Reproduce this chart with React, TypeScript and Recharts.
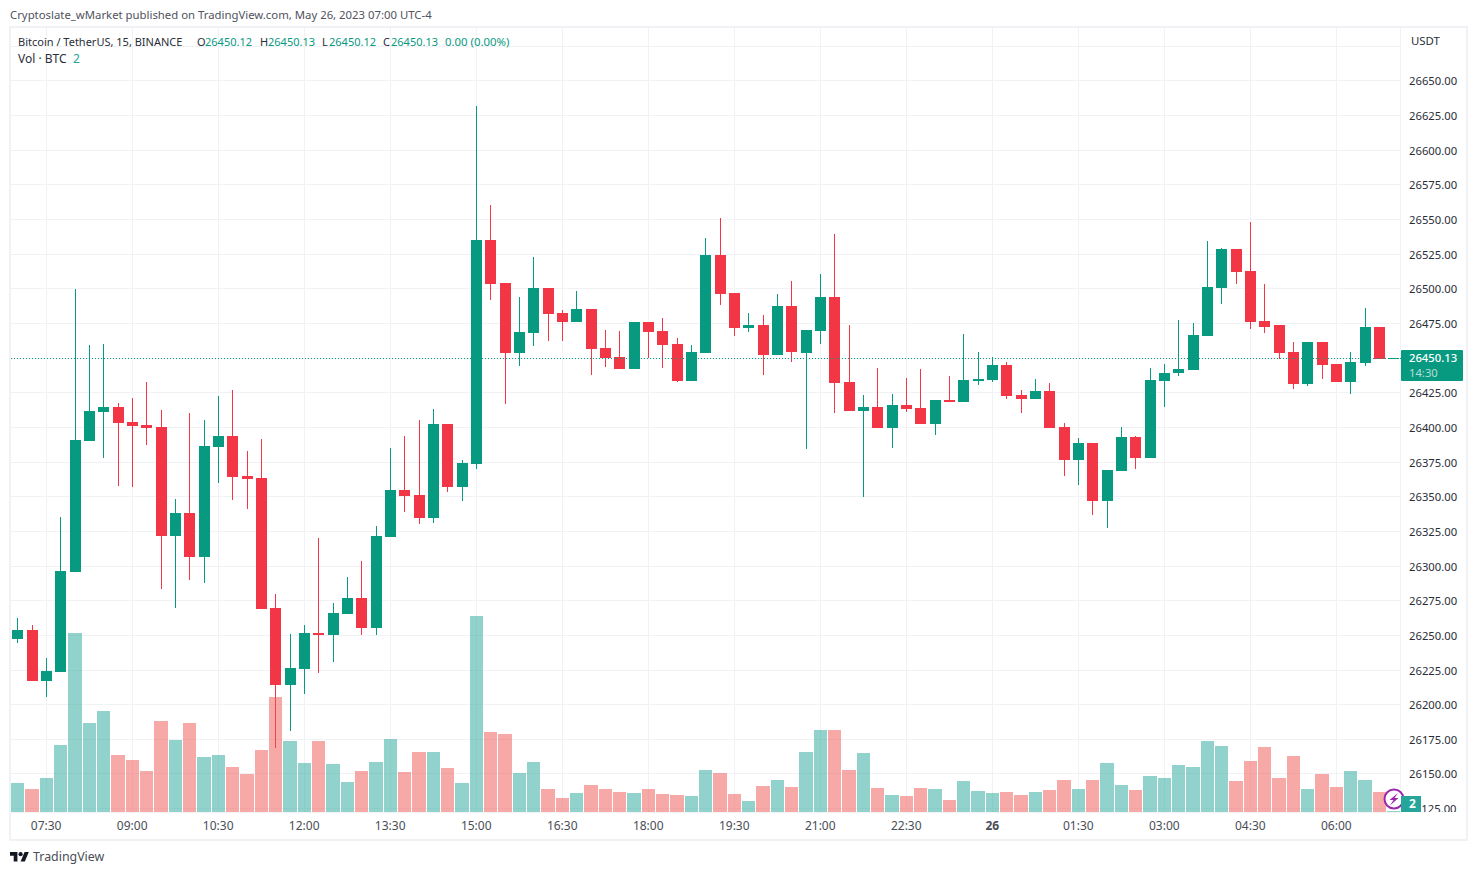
import { Bar, CartesianGrid, Cell, ComposedChart, ReferenceLine, XAxis, YAxis } from 'recharts';

// BTCUSDT 15m, values
const opens = [
  26247.4, 26253.9, 26217.1, 26223.5, 26295.8, 26390.2, 26411.2, 26414.7, 26403.9, 26401.8,
  26400.3, 26321.7, 26338.3, 26306.6, 26385.9, 26393.8, 26364.9, 26363.5, 26269.7, 26214.2,
  26225.7, 26251.7, 26250.2, 26265.4, 26277.0, 26255.3, 26321.0, 26354.8, 26351.2, 26334.7,
  26402.5, 26357.1, 26373.6, 26535.2, 26504.2, 26453.8, 26468.2, 26500.6, 26482.6, 26476.1,
  26485.5, 26457.3, 26450.8, 26442.2, 26476.1, 26469.6, 26460.2, 26433.5, 26453.8, 26524.4,
  26497.0, 26471.8, 26473.9, 26452.4, 26487.7, 26453.8, 26469.6, 26494.1, 26432.8, 26411.9,
  26414.7, 26399.6, 26416.2, 26414.0, 26402.5, 26419.8, 26418.4, 26433.5, 26434.3, 26445.1,
  26423.4, 26420.5, 26426.3, 26400.3, 26376.6, 26388.8, 26347.0, 26368.6, 26393.1, 26378.0,
  26433.5, 26439.3, 26441.5, 26466.0, 26500.6, 26528.8, 26512.9, 26476.8, 26473.9, 26454.5,
  26431.4, 26461.7, 26445.8, 26432.8, 26446.5, 26472.5, 26450.12,
];
const highs = [
  26262.5, 26257.5, 26233.7, 26335.4, 26499.9, 26459.5, 26460.2, 26417.6, 26421.3, 26432.8,
  26412.6, 26348.4, 26410.4, 26405.4, 26422.7, 26427.0, 26382.7, 26391.7, 26279.9, 26251.0,
  26257.5, 26320.3, 26273.3, 26292.1, 26303.7, 26328.9, 26385.2, 26393.8, 26405.4, 26413.3,
  26402.5, 26376.6, 26632.0, 26560.5, 26504.2, 26494.1, 26523.0, 26500.6, 26484.8, 26498.5,
  26485.5, 26470.4, 26469.6, 26476.1, 26476.1, 26479.0, 26464.6, 26459.5, 26536.7, 26551.1,
  26497.0, 26482.6, 26481.2, 26496.3, 26505.7, 26470.4, 26510.7, 26539.6, 26473.9, 26423.4,
  26442.9, 26424.2, 26435.7, 26442.2, 26419.8, 26437.1, 26467.4, 26454.5, 26450.8, 26447.3,
  26427.0, 26435.0, 26432.1, 26403.2, 26392.4, 26388.8, 26369.4, 26400.3, 26393.8, 26442.9,
  26445.8, 26477.5, 26475.4, 26534.6, 26529.5, 26528.8, 26548.6, 26503.5, 26473.9, 26461.7,
  26461.7, 26461.7, 26445.8, 26454.5, 26486.2, 26472.5, 26450.13,
];
const lows = [
  26244.5, 26217.1, 26205.5, 26223.5, 26295.8, 26390.2, 26378.0, 26357.8, 26357.1, 26387.3,
  26283.5, 26269.7, 26290.0, 26287.9, 26359.9, 26347.7, 26340.5, 26269.0, 26168.8, 26181.0,
  26207.7, 26222.8, 26230.8, 26265.4, 26250.2, 26250.2, 26321.0, 26339.0, 26330.4, 26331.1,
  26353.5, 26347.0, 26370.0, 26492.0, 26416.9, 26444.4, 26458.8, 26462.4, 26462.4, 26476.1,
  26437.9, 26443.6, 26442.2, 26442.2, 26450.1, 26442.9, 26432.8, 26433.5, 26453.8, 26488.4,
  26466.0, 26468.9, 26437.9, 26452.4, 26447.3, 26384.5, 26460.2, 26410.4, 26411.9, 26349.8,
  26399.6, 26385.2, 26411.2, 26402.5, 26394.5, 26418.4, 26418.4, 26430.6, 26432.8, 26420.5,
  26410.4, 26420.5, 26399.6, 26365.0, 26358.5, 26336.9, 26327.5, 26368.6, 26370.0, 26378.0,
  26414.7, 26437.1, 26441.5, 26466.0, 26489.1, 26503.5, 26471.1, 26468.2, 26449.4, 26427.8,
  26429.9, 26435.0, 26432.8, 26424.2, 26444.4, 26449.4, 26450.12,
];
const closes = [
  26253.9, 26217.1, 26224.3, 26296.5, 26390.9, 26411.9, 26414.7, 26403.2, 26401.0, 26399.6,
  26321.7, 26338.3, 26306.6, 26386.6, 26393.8, 26364.2, 26362.8, 26269.0, 26214.2, 26226.4,
  26251.7, 26250.2, 26266.1, 26277.0, 26255.3, 26321.7, 26354.8, 26350.5, 26334.7, 26402.5,
  26357.1, 26374.4, 26535.2, 26503.5, 26453.8, 26468.9, 26500.6, 26481.9, 26476.1, 26485.5,
  26456.6, 26450.1, 26442.2, 26476.1, 26468.9, 26459.5, 26433.5, 26454.5, 26524.4, 26496.3,
  26471.8, 26473.9, 26452.4, 26487.7, 26454.5, 26470.4, 26494.1, 26432.1, 26411.9, 26414.7,
  26399.6, 26416.2, 26413.3, 26402.5, 26419.8, 26418.4, 26434.3, 26435.0, 26445.1, 26422.7,
  26420.5, 26426.3, 26399.6, 26376.6, 26388.8, 26347.0, 26369.4, 26393.1, 26378.0, 26434.3,
  26439.3, 26442.2, 26466.7, 26501.4, 26528.8, 26512.2, 26476.1, 26472.5, 26453.8, 26431.4,
  26461.7, 26445.1, 26432.8, 26447.3, 26472.5, 26449.4, 26450.13,
];
const volumes = [
  290, 230, 340, 670, 1790, 890, 1010, 570, 520, 410,
  910, 720, 890, 550, 570, 450, 380, 620, 1150, 710,
  490, 710, 480, 300, 410, 500, 730, 400, 600, 600,
  440, 290, 1960, 800, 780, 390, 500, 230, 140, 190,
  270, 230, 200, 190, 230, 180, 170, 160, 420, 390,
  180, 110, 260, 320, 250, 600, 820, 820, 420, 590,
  240, 170, 160, 240, 230, 120, 310, 210, 190, 200,
  170, 200, 220, 320, 230, 320, 490, 270, 220, 360,
  340, 470, 450, 710, 660, 310, 510, 650, 340, 560,
  230, 380, 250, 410, 320, 200, 2,
];

const tickTimes = [
  '25 07:30', '25 09:00', '25 10:30', '25 12:00', '25 13:30', '25 15:00', '25 16:30', '25 18:00',
  '25 19:30', '25 21:00', '25 22:30', '26 00:00', '26 01:30', '26 03:00', '26 04:30', '26 06:00',
];
const priceTicks = [
  26125, 26150, 26175, 26200, 26225, 26250, 26275, 26300, 26325, 26350, 26375, 26400,
  26425, 26450, 26475, 26500, 26525, 26550, 26575, 26600, 26625, 26650, 26675,
];
const lastPrice = 26450.13;

const barTimes = opens.map((_, i) => {
  const minutes = 7 * 60 + i * 15;
  const clock = minutes % 1440;
  const hh = String(Math.floor(clock / 60)).padStart(2, '0');
  const mm = String(clock % 60).padStart(2, '0');
  return `${minutes >= 1440 ? 26 : 25} ${hh}:${mm}`;
});

const data = barTimes.map((time, i) => ({
  time,
  open: opens[i],
  high: highs[i],
  low: lows[i],
  close: closes[i],
  range: [lows[i], highs[i]],
  volume: volumes[i],
}));

const UP = '#089981';
const DOWN = '#f23645';
const VOL_UP = 'rgba(38,166,154,0.5)';
const VOL_DOWN = 'rgba(239,83,80,0.5)';
const GRID = '#f1f2f5';
const TEXT = '#50535e';
const FONT = '"Noto Sans", sans-serif';

function Candle(props: any) {
  const { x, y, width, height, payload } = props;
  const { open, high, low, close } = payload;
  const span = high - low;
  const toY = (p: number) => (span > 0 ? y + ((high - p) / span) * height : y);
  const color = close >= open ? UP : DOWN;
  const left = Math.ceil(x + width / 2 - 5.5);
  const top = Math.round(toY(Math.max(open, close)));
  const bottom = Math.round(toY(Math.min(open, close)));
  return (
    <g shapeRendering="crispEdges">
      <rect x={left + 5} y={Math.round(y)} width={1} height={Math.max(Math.round(height), 1)} fill={color} />
      <rect x={left} y={top} width={11} height={Math.max(bottom - top, 1)} fill={color} />
    </g>
  );
}

function VolumeBar(props: any) {
  const { x, y, width, height, fill } = props;
  const cx = x + width / 2;
  const left = Math.round(cx - 6.5);
  const right = Math.ceil(cx + 6.5);
  const bottom = Math.round(y + height);
  const top = Math.min(Math.round(y), bottom - 1);
  return <rect x={left} y={top} width={right - left} height={bottom - top} fill={fill} shapeRendering="crispEdges" />;
}

function TimeTick({ x, y, payload }: any) {
  const isDay = payload.value === '26 00:00';
  return (
    <text x={x} y={y + 7} textAnchor="middle" dominantBaseline="central" fontFamily={FONT} fontSize={12}
      fontWeight={isDay ? 700 : 400} fill="#4a4e57">
      {isDay ? '26' : payload.value.slice(3)}
    </text>
  );
}

function PriceTick({ x, y, payload }: any) {
  // 26675 has a grid line but no label, 26450 sits under the price tag, 26125 is half under the volume tag
  if (payload.value === 26675 || payload.value === 26450) return null;
  const label = payload.value.toFixed(2);
  const cut = payload.value === 26125;
  return (
    <text x={cut ? x + 14.5 : x + 2.2} y={y} textAnchor="start" dominantBaseline="central" fontFamily={FONT} fontSize={11.25} fill="#2a2e39">
      {cut ? label.slice(2) : label}
    </text>
  );
}

function Caption({ left, top, color = TEXT, children, size = 11.35, height = 16 }: any) {
  return (
    <span style={{ position: 'absolute', left, top, color, fontSize: size, lineHeight: `${height}px`, whiteSpace: 'nowrap' }}>
      {children}
    </span>
  );
}

export default function App() {
  return (
    <div style={{ position: 'absolute', left: 0, top: 0, width: 1477, height: 875, background: '#fff', fontFamily: FONT, overflow: 'hidden' }}>
      <ComposedChart width={1477} height={875} data={data} barCategoryGap={0}
        margin={{ top: 27, right: 10, bottom: 35, left: 10.33 }}>
        <CartesianGrid xAxisId="time" yAxisId="price" stroke={GRID} shapeRendering="crispEdges" />
        <XAxis xAxisId="time" dataKey="time" ticks={tickTimes} interval={0} height={28}
          axisLine={false} tickLine={false} tickMargin={0} tick={<TimeTick />} />
        <XAxis xAxisId="vol" dataKey="time" hide />
        <YAxis yAxisId="price" orientation="right" width={66.17} domain={[26122.58, 26688.96]} allowDataOverflow
          ticks={priceTicks} interval={0} axisLine={false} tickLine={false} tickMargin={0} tick={<PriceTick />} />
        <YAxis yAxisId="vol" hide domain={[0, 7850]} />
        <Bar xAxisId="time" yAxisId="price" dataKey="range" isAnimationActive={false} shape={<Candle />} />
        <Bar xAxisId="vol" yAxisId="vol" dataKey="volume" isAnimationActive={false} shape={<VolumeBar />}>
          {data.map((d) => (
            <Cell key={d.time} fill={d.close >= d.open ? VOL_UP : VOL_DOWN} />
          ))}
        </Bar>
        <ReferenceLine xAxisId="time" yAxisId="price" y={lastPrice} stroke={UP} strokeDasharray="1 2" shapeRendering="crispEdges" />
      </ComposedChart>

      <svg width={1477} height={875} style={{ position: 'absolute', left: 0, top: 0, pointerEvents: 'none' }}>
        <g fill={GRID} shapeRendering="crispEdges">
          <rect x={9} y={26} width={1459} height={2} />
          <rect x={9} y={839} width={1459} height={2} />
          <rect x={9} y={26} width={2} height={815} />
          <rect x={1466} y={26} width={2} height={815} />
        </g>
        <rect x={1401} y={812} width={65} height={8} fill="#fff" />
        <rect x={1400} y={358} width={2} height={1} fill={UP} />
        <rect x={1401} y={350} width={62} height={31} rx={1} fill={UP} />
        <circle cx={1394} cy={799} r={9.5} fill="#fff" stroke="#9c27b0" strokeWidth={2} />
        <path d="M1398 793 L1389.5 800 L1393.5 800 L1390 805.5 L1398.5 798 L1394.5 798 Z" fill="#9c27b0" />
        <rect x={1401} y={796} width={20} height={16} fill="#26a69a" />
        <g transform="translate(10 849.9) scale(0.53)" fill="#131722">
          <path d="M14 22H7V11H0V4h14v18zM28 22h-8l7.5-18h8L28 22z" />
          <circle cx={20} cy={8} r={4} />
        </g>
      </svg>

      <Caption left={10} top={7}>Cryptoslate_wMarket published on TradingView.com, May 26, 2023 07:00 UTC-4</Caption>
      <Caption left={18} top={34} color="#2a2e39" size={11}>Bitcoin / TetherUS, 15, BINANCE</Caption>
      <Caption left={197} top={34} color="#2a2e39" size={11}>O</Caption>
      <Caption left={205} top={34} color={UP} size={11}>26450.12</Caption>
      <Caption left={260} top={34} color="#2a2e39" size={11}>H</Caption>
      <Caption left={268} top={34} color={UP} size={11}>26450.13</Caption>
      <Caption left={322} top={34} color="#2a2e39" size={11}>L</Caption>
      <Caption left={329} top={34} color={UP} size={11}>26450.12</Caption>
      <Caption left={383} top={34} color="#2a2e39" size={11}>C</Caption>
      <Caption left={391} top={34} color={UP} size={11}>26450.13</Caption>
      <Caption left={445} top={34} color={UP} size={11.4}>0.00 (0.00%)</Caption>
      <Caption left={18} top={51} color="#2a2e39" size={12}>Vol · BTC</Caption>
      <Caption left={73} top={51} color="#26a69a" size={12}>2</Caption>
      <Caption left={1411} top={33} color="#2a2e39" size={11.4}>USDT</Caption>
      <Caption left={1409} top={351} color="#fff" size={11.25} height={14}><b style={{ fontWeight: 500 }}>26450.13</b></Caption>
      <Caption left={1409} top={366} color="rgba(255,255,255,0.7)" size={11.25} height={14}>14:30</Caption>
      <Caption left={1409} top={796} color="#fff" size={12}><b>2</b></Caption>
      <Caption left={33} top={849} color="#4a4e57" size={12.4}>TradingView</Caption>
    </div>
  );
}
